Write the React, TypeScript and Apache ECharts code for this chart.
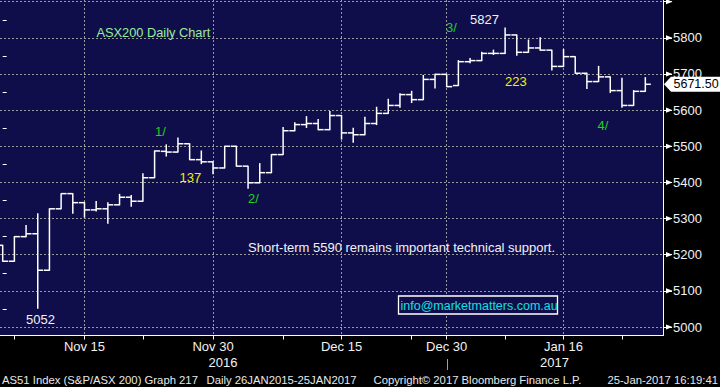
import React, { useEffect, useRef } from "react";
import * as echarts from "echarts";

const dates = [
  "Nov 4", "Nov 7", "Nov 8", "Nov 9", "Nov 10", "Nov 11", "Nov 14", "Nov 15", "Nov 16", "Nov 17",
  "Nov 18", "Nov 21", "Nov 22", "Nov 23", "Nov 24", "Nov 25", "Nov 28", "Nov 29", "Nov 30", "Dec 1",
  "Dec 2", "Dec 5", "Dec 6", "Dec 7", "Dec 8", "Dec 9", "Dec 12", "Dec 13", "Dec 14", "Dec 15",
  "Dec 16", "Dec 19", "Dec 20", "Dec 21", "Dec 22", "Dec 23", "Dec 28", "Dec 29", "Dec 30", "Jan 3",
  "Jan 4", "Jan 5", "Jan 6", "Jan 9", "Jan 10", "Jan 11", "Jan 12", "Jan 13", "Jan 16", "Jan 17",
  "Jan 18", "Jan 19", "Jan 20", "Jan 23", "Jan 24", "Jan 25",
];
const openP = [
  5226, 5182, 5250, 5258, 5157, 5327, 5369, 5344, 5324, 5327,
  5338, 5359, 5348, 5413, 5486, 5484, 5507, 5463, 5457, 5440,
  5500, 5445, 5399, 5427, 5477, 5543, 5560, 5563, 5546, 5585,
  5537, 5532, 5563, 5591, 5613, 5643, 5629, 5685, 5699, 5668,
  5734, 5737, 5757, 5757, 5808, 5760, 5772, 5766, 5721, 5748,
  5702, 5679, 5692, 5654, 5613, 5652,
];
const highP = [
  5226, 5250, 5281, 5313, 5327, 5369, 5369, 5344, 5347, 5344,
  5367, 5364, 5424, 5487, 5504, 5523, 5507, 5487, 5457, 5500,
  5500, 5445, 5452, 5477, 5552, 5565, 5582, 5574, 5596, 5585,
  5550, 5580, 5608, 5630, 5645, 5652, 5696, 5699, 5699, 5737,
  5743, 5760, 5766, 5827, 5808, 5794, 5800, 5766, 5768, 5748,
  5702, 5721, 5692, 5688, 5654, 5690,
];
const lowP = [
  5182, 5182, 5250, 5052, 5157, 5327, 5315, 5304, 5321, 5287,
  5338, 5334, 5348, 5413, 5473, 5484, 5463, 5452, 5424, 5440,
  5445, 5384, 5399, 5427, 5477, 5543, 5552, 5546, 5546, 5520,
  5511, 5532, 5560, 5591, 5608, 5621, 5629, 5661, 5665, 5668,
  5731, 5737, 5754, 5757, 5752, 5760, 5766, 5711, 5721, 5702,
  5660, 5679, 5649, 5608, 5613, 5652,
];
const closeP = [
  5182, 5250, 5258, 5157, 5327, 5369, 5344, 5324, 5327, 5338,
  5359, 5348, 5413, 5487, 5484, 5507, 5463, 5457, 5440, 5500,
  5445, 5399, 5427, 5477, 5543, 5560, 5563, 5546, 5585, 5537,
  5532, 5563, 5591, 5613, 5643, 5629, 5685, 5699, 5665, 5734,
  5737, 5757, 5757, 5808, 5760, 5772, 5766, 5721, 5748, 5702,
  5679, 5692, 5654, 5613, 5652, 5671.5,
];

const majorLabelDates = ["Nov 15", "Nov 30", "Dec 15", "Dec 30", "Jan 16"];
const minorTickDates = ["Nov 7", "Nov 22", "Dec 8", "Dec 23", "Jan 9", "Jan 23"];
const yearLabels = [
  { date: "Nov 30", text: "2016", dx: 10 },
  { date: "Jan 16", text: "2017", dx: -9 },
];
const yearDividerDate = "Dec 30";
const yTicks = [5000, 5100, 5200, 5300, 5400, 5500, 5600, 5700, 5800, 5900];
const yLabels = [5000, 5100, 5200, 5300, 5400, 5500, 5600, 5700, 5800];
const yMinorTicks = [5050, 5150, 5250, 5350, 5450, 5550, 5650, 5750, 5850];
const lastPriceText = "5671.50";

const FONT = '"Liberation Sans", Arial, sans-serif';
const NAVY = "#100e4a";
const GRID_COLOR = "#9a9a9a";
const TEXT = "#f2f2f2";

export default function App() {
  const ref = useRef<HTMLDivElement>(null);

  useEffect(() => {
    const chart = echarts.init(ref.current!, null, { renderer: "svg" });
    const data = dates.map((d, i) => [i, openP[i], highP[i], lowP[i], closeP[i]]);
    const idxOf = (d: string) => dates.indexOf(d);
    const labelIdx = majorLabelDates.map(idxOf);
    const tickIdx = [...minorTickDates, ...majorLabelDates].map(idxOf).sort((a, b) => a - b);
    const X_MIN = -0.231;
    const X_MAX = 56.513;
    const Y_MIN = 4976.5;
    const Y_MAX = 5904.7;

    const option: any = {
      animation: false,
      backgroundColor: "#000000",
      textStyle: { fontFamily: FONT },
      grid: {
        left: 0,
        top: 0,
        width: 663,
        height: 335.5,
        show: true,
        backgroundColor: NAVY,
        borderWidth: 0,
        containLabel: false,
        outerBoundsMode: "none",
      },
      xAxis: [
        {
          type: "value",
          min: X_MIN,
          max: X_MAX,
          position: "bottom",
          axisLine: { show: true, onZero: false, lineStyle: { color: "#ffffff", width: 1 } },
          axisTick: { show: true, customValues: tickIdx, length: 4, lineStyle: { color: "#ffffff" } },
          axisLabel: {
            customValues: labelIdx,
            formatter: (v: number) => dates[Math.round(v)],
            color: TEXT,
            fontSize: 13,
            fontFamily: FONT,
            margin: 4,
          },
          splitLine: { show: false },
        },
        {
          type: "value",
          min: X_MIN,
          max: X_MAX,
          position: "top",
          axisLine: { show: false },
          axisTick: { show: false, customValues: labelIdx },
          axisLabel: { show: false, customValues: labelIdx },
          splitLine: { show: true, lineStyle: { color: GRID_COLOR, type: [2, 2], width: 1 } },
        },
      ],
      yAxis: [
        {
          type: "value",
          position: "right",
          min: Y_MIN,
          max: Y_MAX,
          axisLine: { show: true, onZero: false, lineStyle: { color: "#ffffff", width: 1 } },
          axisTick: { show: true, customValues: yTicks, length: 9, lineStyle: { color: "#ffffff" } },
          axisLabel: {
            customValues: yLabels,
            formatter: (v: number) => String(v),
            color: TEXT,
            fontSize: 13,
            fontFamily: FONT,
            margin: 10,
          },
          splitLine: { show: true, lineStyle: { color: GRID_COLOR, type: [2, 2], width: 1 } },
        },
        {
          type: "value",
          position: "right",
          min: Y_MIN,
          max: Y_MAX,
          axisLine: { show: false },
          axisTick: { show: true, customValues: yMinorTicks, length: 4, lineStyle: { color: "#ffffff" } },
          axisLabel: { show: false, customValues: yMinorTicks },
          splitLine: { show: false },
        },
      ],
      series: [
        {
          type: "custom",
          xAxisIndex: 0,
          yAxisIndex: 0,
          data,
          encode: { x: 0, y: [1, 2, 3, 4] },
          clip: true,
          renderItem: (params: any, api: any) => {
            const i = api.value(0);
            const pO = api.coord([i, api.value(1)]);
            const pH = api.coord([i, api.value(2)]);
            const pL = api.coord([i, api.value(3)]);
            const pC = api.coord([i, api.value(4)]);
            const half = api.size([1, 0])[0] * 0.47;
            const style = { stroke: "#ffffff", lineWidth: 1.5 };
            return {
              type: "group",
              children: [
                { type: "line", shape: { x1: pH[0], y1: pH[1] - 0.5, x2: pL[0], y2: pL[1] + 0.5 }, style },
                { type: "line", shape: { x1: pO[0] - half, y1: pO[1], x2: pO[0], y2: pO[1] }, style },
                { type: "line", shape: { x1: pC[0], y1: pC[1], x2: pC[0] + half, y2: pC[1] }, style },
              ],
            };
          },
        },
      ],
    };
    chart.setOption(option);

    const px = (i: number) => chart.convertToPixel({ xAxisIndex: 0 }, i) as number;
    const py = (v: number) => chart.convertToPixel({ yAxisIndex: 0 }, v) as number;
    const axisX = 663;

    const graphics: any[] = [];
    yTicks.forEach((v) => {
      const y = py(v);
      graphics.push({
        type: "polygon",
        silent: true,
        z: 50,
        shape: { points: [[axisX + 3, y - 2.6], [axisX + 9.5, y], [axisX + 3, y + 2.6]] },
        style: { fill: "#ffffff" },
      });
    });

    const lastY = py(closeP[closeP.length - 1]);
    graphics.push({
      type: "polygon",
      z: 60,
      shape: {
        points: [
          [664, lastY],
          [671, lastY - 7.5],
          [720, lastY - 7.5],
          [720, lastY + 7.5],
          [671, lastY + 7.5],
        ],
      },
      style: { fill: "#ffffff" },
    });
    graphics.push({
      type: "text",
      z: 61,
      x: 673.5,
      y: lastY,
      style: { text: lastPriceText, fill: "#000000", fontSize: 12.5, fontFamily: FONT, verticalAlign: "middle", align: "left" },
    });

    yearLabels.forEach((yl) => {
      graphics.push({
        type: "text",
        x: px(idxOf(yl.date)) + yl.dx,
        y: 362,
        style: { text: yl.text, fill: TEXT, fontSize: 13, fontFamily: FONT, align: "center", verticalAlign: "middle" },
      });
    });
    const divX = Math.round(px(idxOf(yearDividerDate))) + 0.5;
    graphics.push({
      type: "line",
      shape: { x1: divX, y1: 359, x2: divX, y2: 370 },
      style: { stroke: "#a0a0a0", lineWidth: 1 },
    });

    const txt = (text: string, x: number, y: number, fill: string, fontSize = 13, align = "left") => ({
      type: "text",
      x,
      y,
      z: 40,
      style: { text, fill, fontSize, fontFamily: FONT, align, verticalAlign: "middle" },
    });

    graphics.push(txt("ASX200 Daily Chart", 96.5, 32, "#98ee98", 12.8));
    graphics.push(txt("1/", 155, 131, "#1ed21e"));
    graphics.push(txt("137", 179.5, 177, "#f0f000"));
    graphics.push(txt("2/", 248, 198.5, "#1ed21e"));
    graphics.push(txt("3/", 446, 27, "#1ed21e"));
    graphics.push(txt("5827", 470, 19, TEXT));
    graphics.push(txt("223", 505, 81, "#f0f000"));
    graphics.push(txt("4/", 597.5, 125, "#1ed21e"));
    graphics.push(txt("5052", 26, 319, TEXT));
    graphics.push(txt("Short-term 5590 remains important technical support.", 248, 247.5, TEXT, 13));

    graphics.push({
      type: "rect",
      z: 40,
      shape: { x: 398.5, y: 296, width: 159, height: 18 },
      style: { fill: NAVY, stroke: "#ffffff", lineWidth: 1.3 },
    });
    graphics.push(txt("info@marketmatters.com.au", 400.5, 305.5, "#10e0e0", 12.5));

    graphics.push(txt("AS51 Index (S&P/ASX 200) Graph 217", 2, 379.5, "#e8e8e8", 11.3));
    graphics.push(txt("Daily 26JAN2015-25JAN2017", 206.5, 379.5, "#e8e8e8", 11.3));
    graphics.push(txt("Copyright\u00a9 2017 Bloomberg Finance L.P.", 373.5, 379.5, "#e8e8e8", 11.3));
    graphics.push(txt("25-Jan-2017 16:19:41", 718, 379.5, "#e8e8e8", 11.3, "right"));

    chart.setOption({ graphic: graphics });

    return () => {
      chart.dispose();
    };
  }, []);

  return (
    <div
      ref={ref}
      style={{ position: "absolute", left: 0, top: 0, width: 720, height: 387, background: "#000000" }}
    />
  );
}
